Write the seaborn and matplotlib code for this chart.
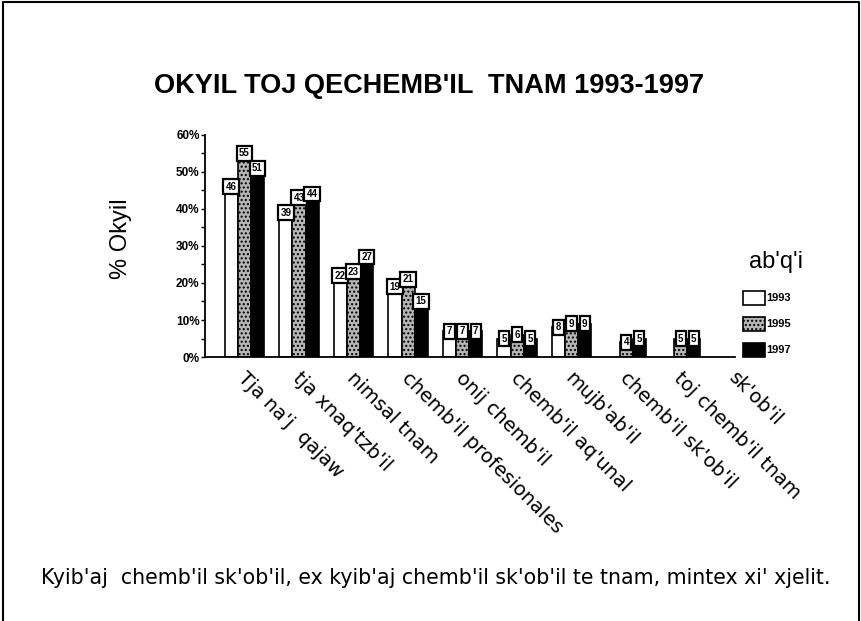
import numpy as np
import pandas as pd
import seaborn as sns
import matplotlib.pyplot as plt
import matplotlib.transforms as mtransforms
from matplotlib.patches import Rectangle
from matplotlib.lines import Line2D

categories = ["Tja na'j  qajaw", "tja xnaq'tzb'il", "nimsal tnam", "chemb'il profesionales",
              "onij chemb'il", "chemb'il aq'unal", "mujb'ab'il", "chemb'il sk'ob'il",
              "toj chemb'il tnam", "sk'ob'il"]
years = ["1993", "1995", "1997"]
v1993 = [46, 39, 22, 19, 7, 5, 8, np.nan, np.nan, np.nan]
v1995 = [55, 43, 23, 21, 7, 6, 9, 4, 5, np.nan]
v1997 = [51, 44, 27, 15, 7, 5, 9, 5, 5, np.nan]

rows = []
for yr, vals in zip(years, [v1993, v1995, v1997]):
    for c, v in zip(categories, vals):
        rows.append({"cat": c, "year": yr, "val": v})
df = pd.DataFrame(rows)

sns.set_style("white")
plt.rcParams['font.family'] = ['Liberation Sans', 'DejaVu Sans']
plt.rcParams['text.color'] = 'black'
plt.rcParams['xtick.color'] = 'black'
plt.rcParams['ytick.color'] = 'black'
plt.rcParams['axes.labelcolor'] = 'black'

fig = plt.figure(figsize=(8.62, 6.21), dpi=100)
ax = fig.add_axes([0.238, 0.425, 0.615, 0.358])

pal = {"1993": "white", "1995": "#b5b5b5", "1997": "black"}
sns.barplot(data=df, x="cat", y="val", hue="year", order=categories, hue_order=years,
            palette=pal, edgecolor="black", linewidth=1.2, width=0.72, errorbar=None,
            legend=False, ax=ax)

# value boxes on top of each bar
for cont, yr in zip(ax.containers, years):
    for p in cont:
        if p is None or np.isnan(p.get_height()):
            continue
        if yr == "1995":
            p.set_hatch("....")
        ax.text(p.get_x() + p.get_width() / 2, p.get_height(), str(int(round(p.get_height()))),
                ha="center", va="center", fontsize=7, fontweight="bold", zorder=5,
                bbox=dict(boxstyle="square,pad=0.25", fc="white", ec="black", lw=1.6))

ax.set_ylim(0, 60)
ax.set_xlim(-0.72, 8.81)
ax.set_yticks(range(0, 61, 10))
ax.set_yticks(range(5, 60, 10), minor=True)
ax.set_yticklabels([f"{t}%" for t in range(0, 61, 10)], fontsize=8.5, fontweight="bold")
ax.tick_params(axis="y", which="both", direction="out", length=3, width=1, left=True, pad=1)
ax.tick_params(axis="x", length=0, pad=8)
ax.set_xticks(range(len(categories)))
ax.set_xticklabels(categories, rotation=-45, ha="left", va="top", rotation_mode="anchor",
                   fontsize=14, family=["DejaVu Sans"])
shift = mtransforms.ScaledTranslation(3 / 100, 0, fig.dpi_scale_trans)
for lbl in ax.get_xticklabels():
    lbl.set_transform(lbl.get_transform() + shift)
for s in ["top", "right"]:
    ax.spines[s].set_visible(False)
for s in ["left", "bottom"]:
    ax.spines[s].set_color("black")
    ax.spines[s].set_linewidth(1.3)
ax.set_xlabel("")
ax.set_ylabel("")

fig.text(0.14, 0.615, "% Okyil", rotation=90, fontsize=17, ha="center", va="center")
fig.text(0.498, 0.862, "OKYIL TOJ QECHEMB'IL  TNAM 1993-1997", fontsize=19.5,
         fontweight="bold", ha="center", va="center")
fig.text(0.506, 0.069, "Kyib'aj  chemb'il sk'ob'il, ex kyib'aj chemb'il sk'ob'il te tnam, mintex xi' xjelit.",
         fontsize=14.8, family=["DejaVu Sans"], ha="center", va="center")

# legend
fig.text(0.9, 0.578, "ab'q'i", fontsize=17, ha="center", va="center")
for i, yr in enumerate(years):
    yc = 0.52 - i * 0.042
    r = Rectangle((0.862, yc - 0.011), 0.025, 0.022, transform=fig.transFigure,
                  fc=pal[yr], ec="black", lw=1.2, hatch="...." if yr == "1995" else None)
    fig.add_artist(r)
    fig.text(0.889, yc, yr, fontsize=8, fontweight="bold", ha="left", va="center")

# outer frame (left, top, right)
fig.add_artist(Line2D([0.003, 0.003, 0.997, 0.997], [0.0, 0.996, 0.996, 0.0],
                      transform=fig.transFigure, color="black", lw=1.5))

fig.savefig("out.png", dpi=100)
